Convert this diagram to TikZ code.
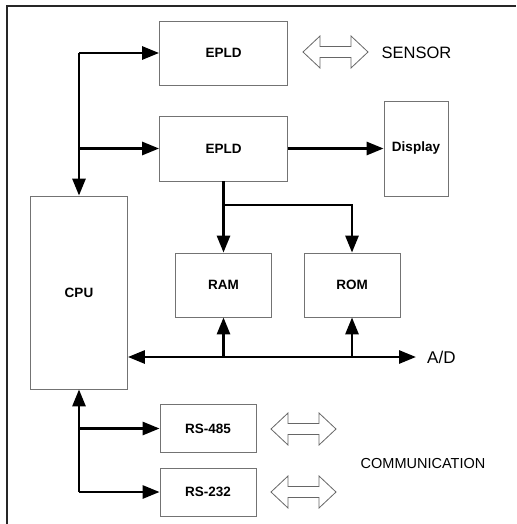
\documentclass[tikz,border=0pt]{standalone}
\usepackage{fontspec}
\setmainfont{Liberation Sans}
\usetikzlibrary{arrows.meta}
\tikzset{
  blk/.style={draw=black!55, line width=0.8pt, rectangle, inner sep=0pt,
    font=\fontsize{13.5}{15}\selectfont\bfseries},
  conn/.style={line width=2.8pt, -{Triangle[length=17pt,width=13pt]}},
  bidir/.style={line width=2.8pt, {Triangle[length=17pt,width=13pt]}-{Triangle[length=17pt,width=13pt]}},
  hollow/.style={draw=black!60, line width=0.8pt, line join=miter},
  frameline/.style={draw=black!85, line width=1.6pt},
  bigtxt/.style={font=\fontsize{#1}{#1}\selectfont, inner sep=0pt},
  pics/harrow/.style args={#1/#2}{code={
    \draw[hollow] (0,0) -- (17,-16) -- (17,-5.5) -- (#1-17,-5.5) -- (#1-17,-16) -- (#1,0)
      -- (#1-17,16) -- (#1-17,5.5) -- (17,5.5) -- (17,16) -- cycle;
  }}
}
\begin{document}
\begin{tikzpicture}[x=1pt,y=-1pt]
\useasboundingbox (0,0) rectangle (516,524);
% frame (only top and left edges visible)
\draw[frameline] (7,524) -- (7,6) -- (516,6);

% blocks
\node[blk, minimum width=128pt, minimum height=64pt] (epldA) at (223.5,53) {EPLD};
\node[blk, minimum width=128pt, minimum height=65pt] (epldB) at (223.5,148.5) {EPLD};
\node[blk, minimum width=64pt, minimum height=95pt] (disp) at (416,148.5) {Display};
\node[blk, minimum width=97pt, minimum height=193pt] (cpu) at (79,292.5) {CPU};
\node[blk, minimum width=96pt, minimum height=64pt] (ram) at (223.5,285) {RAM};
\node[blk, minimum width=96pt, minimum height=64pt] (rom) at (352,285) {ROM};
\node[blk, minimum width=96pt, minimum height=48pt] (rs485) at (208,428.5) {RS-485};
\node[blk, minimum width=96pt, minimum height=48pt] (rs232) at (208,492) {RS-232};

% junction coordinates
\coordinate (jt) at (79,53);
\coordinate (jb) at (79,492);
\coordinate (mb) at (223.5,205);
\coordinate (ad) at (416,357);

% upper bus
\draw[conn] (jt) -- (epldA.west);
\draw[conn] (jt) -- (cpu.north);
\draw[conn] (jt |- epldB.west) -- (epldB.west);
\draw[conn] (epldB.east) -- (disp.west);

% memory
\draw[conn] (epldB.south) -- (ram.north);
\draw[conn] (mb) -| (rom.north);

% A/D bus
\draw[bidir] (cpu.east |- ad) -- (ad);
\draw[conn] (ram.south |- ad) -- (ram.south);
\draw[conn] (rom.south |- ad) -- (rom.south);

% lower bus
\draw[conn] (jb) -- (cpu.south);
\draw[conn] (jb |- rs485.west) -- (rs485.west);
\draw[conn] (jb) -- (rs232.west);

% hollow double arrows
\pic at (303,52) {harrow=65/0};
\pic at (271,429) {harrow=65/0};
\pic at (271,492) {harrow=65/0};

% labels
\node[bigtxt=16.5] (sensor) at (416.5,53) {SENSOR};
\node[bigtxt=14.5] (comm) at (423,463.5) {COMMUNICATION};
\node[bigtxt=17, anchor=west] (adl) at (427,357) {A/D};
\end{tikzpicture}
\end{document}
